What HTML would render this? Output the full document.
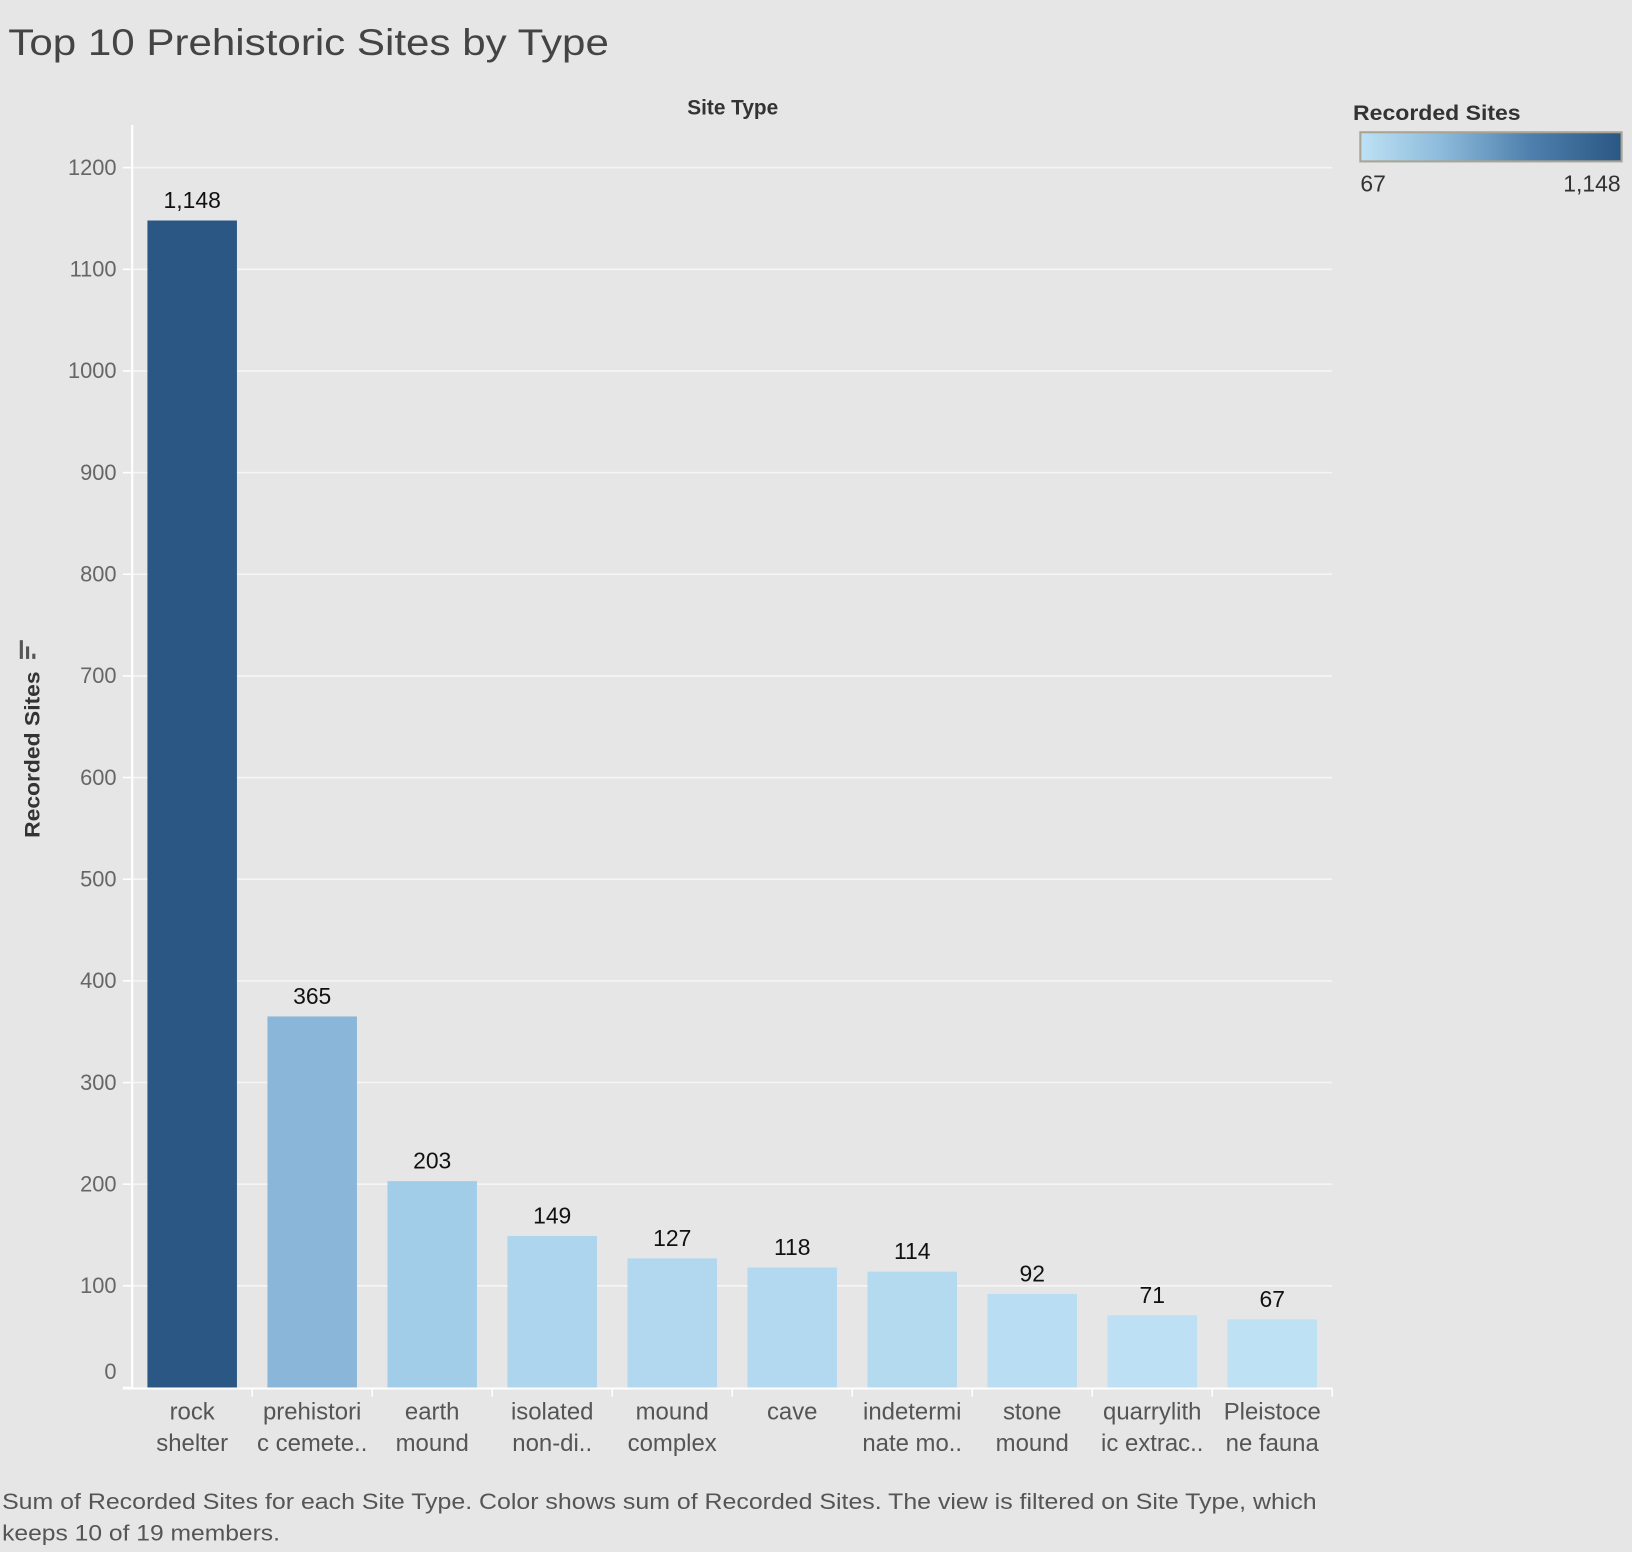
<!DOCTYPE html>
<html><head><meta charset="utf-8"><style>
html,body{margin:0;padding:0;background:#e6e6e6;}
svg{display:block;font-family:"Liberation Sans","DejaVu Sans",sans-serif;}
</style></head><body>
<svg id="c" width="1632" height="1552" viewBox="0 0 1568 1491" xmlns="http://www.w3.org/2000/svg">
<rect width="1568" height="1491" fill="#e6e6e6"/>
<text x="8" y="53" font-size="36" fill="#444" textLength="577" lengthAdjust="spacingAndGlyphs">Top 10 Prehistoric Sites by Type</text>
<text x="704" y="110" font-size="20" font-weight="bold" fill="#333" text-anchor="middle">Site Type</text>
<text transform="translate(38,725) rotate(-90)" font-size="20" font-weight="bold" fill="#333" text-anchor="middle" textLength="160" lengthAdjust="spacingAndGlyphs">Recorded Sites</text>
<g><rect x="19" y="615" width="3" height="18" fill="#555"/><rect x="25" y="621" width="3" height="12" fill="#555"/><rect x="31" y="628" width="3" height="5" fill="#555"/></g>
<g id="grid"></g><g id="bars"></g><g id="labels"></g>
<line x1="127" y1="120" x2="127" y2="1335" stroke="#fff" stroke-width="2"/>
<line x1="118" y1="1334" x2="1280" y2="1334" stroke="#fff" stroke-width="2"/>
<text x="1300" y="115" font-size="20" font-weight="bold" fill="#333" textLength="161" lengthAdjust="spacingAndGlyphs">Recorded Sites</text>
<defs><linearGradient id="lg"><stop offset="0" stop-color="#bee1f4"/><stop offset="0.3" stop-color="#8ebcdc"/><stop offset="0.65" stop-color="#4f80ad"/><stop offset="1" stop-color="#2a5783"/></linearGradient></defs>
<rect x="1307" y="127" width="251" height="28" fill="url(#lg)" stroke="#aaa494" stroke-width="2"/>
<text x="1307" y="184" font-size="22" fill="#333">67</text>
<text x="1557" y="184" font-size="22" fill="#333" text-anchor="end">1,148</text>
<text x="2" y="1450" font-size="21" fill="#555" textLength="1263" lengthAdjust="spacingAndGlyphs">Sum of Recorded Sites for each Site Type.  Color shows sum of Recorded Sites. The view is filtered on Site Type, which</text>
<text x="2" y="1480" font-size="21" fill="#555" textLength="267" lengthAdjust="spacingAndGlyphs">keeps 10 of 19 members.</text>
</svg>
<script>
const categories=[["rock","shelter"],["prehistori","c cemete.."],["earth","mound"],["isolated","non-di.."],["mound","complex"],["cave",""],["indetermi","nate mo.."],["stone","mound"],["quarrylith","ic extrac.."],["Pleistoce","ne fauna"]];
const values=[1148,365,203,149,127,118,114,92,71,67];
const valueLabels=["1,148","365","203","149","127","118","114","92","71","67"];
const yTicks=[0,100,200,300,400,500,600,700,800,900,1000,1100,1200];
const NS="http://www.w3.org/2000/svg";
const y0=1333,yTop=161,xL=127,xR=1280;
const y=v=>y0-(v/1200)*(y0-yTop);
const step=(xR-xL)/values.length;
const x=i=>xL+step*(i+0.5);
function mk(t,a,p){const e=document.createElementNS(NS,t);for(const k in a)e.setAttribute(k,a[k]);p.appendChild(e);return e;}
function lerp(a,b,t){return Math.round(a+(b-a)*t);}
const ramp=[[0,[190,225,244]],[0.13,[161,204,232]],[0.28,[137,182,217]],[0.6,[80,128,173]],[1,[42,87,131]]];
function col(v){const t=(v-67)/(1148-67);let k=0;while(k<ramp.length-2&&t>ramp[k+1][0])k++;const a=ramp[k],b=ramp[k+1];const u=(t-a[0])/(b[0]-a[0]);return `rgb(${lerp(a[1][0],b[1][0],u)},${lerp(a[1][1],b[1][1],u)},${lerp(a[1][2],b[1][2],u)})`;}
const g=document.getElementById('grid'),b=document.getElementById('bars'),l=document.getElementById('labels');
yTicks.forEach(v=>{
 if(v>0){const ln=mk('line',{x1:xL,x2:xR,y1:y(v),y2:y(v),stroke:'#f5f5f5','stroke-width':1.5},g);
 
 }
 const t=mk('text',{x:112,y:(v===0?y(v)-8:y(v)+7),'font-size':21,fill:'#666','text-anchor':'end'},g);t.textContent=v;
 
 
 const tk=mk('line',{x1:118,x2:127,y1:y(v),y2:y(v),stroke:'#fff','stroke-width':1.5},g);
 
 
});
values.forEach((v,i)=>{
 const bw=86;
 const r=mk('rect',{x:x(i)-bw/2,y:y(v),width:bw,height:y0-y(v),fill:col(v)},b);
 
 
 const t=mk('text',{x:x(i),y:y(v)-12,'font-size':22,fill:'#111','text-anchor':'middle'},l);t.textContent=valueLabels[i];
 
 
 const tk=mk('line',{x1:xL+step*(i+1),x2:xL+step*(i+1),y1:1334,y2:1342,stroke:'#fff','stroke-width':1.5},l);
 
 
 const c=mk('text',{x:x(i),y:1364,'font-size':23,fill:'#555','text-anchor':'middle'},l);
 
 
 categories[i].forEach((s,j)=>{const ts=mk('tspan',{x:x(i),dy:j?30:0},c);ts.textContent=s;});
});
</script>
</body></html>
